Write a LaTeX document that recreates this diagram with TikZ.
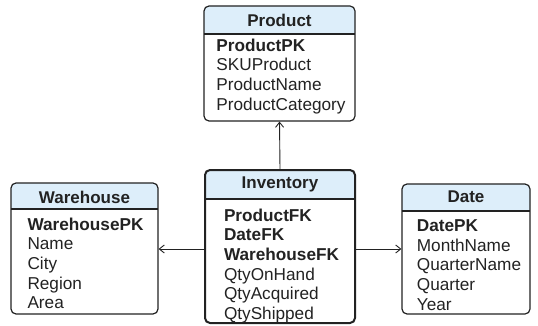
\documentclass[tikz,border=0pt]{standalone}
\usepackage{fontspec}
\setmainfont{Liberation Sans}
\usetikzlibrary{arrows.meta}
\definecolor{hdrblue}{RGB}{221,238,250}
\definecolor{ink}{RGB}{34,34,34}
\tikzset{
  tablebox/.style={draw=ink, line width=1.2pt, rounded corners=5pt, inner sep=0pt},
  facttable/.style={tablebox, line width=2pt},
  hdrfill/.style={fill=hdrblue},
  titletext/.style={font=\fontsize{17}{19}\selectfont\bfseries, text=ink, inner sep=0pt},
  bodytext/.style={font=\fontsize{17.2}{19.7}\selectfont, text=ink, align=left, inner sep=0pt, anchor=north},
  link/.style={draw=ink, line width=0.9pt, -{Straight Barb[length=5pt,width=8pt]}}
}
% one table: #1 name, #2 left, #3 top, #4 right, #5 header bottom, #6 bottom, #7 style
\newcommand{\tablecard}[7]{%
  \fill[hdrfill, rounded corners=5pt] (#2,#3) rectangle (#4,#5);
  \fill[hdrfill] (#2,#5-6) rectangle (#4,#5);
  \draw[draw=ink, line width=1.1pt] (#2,#5) -- (#4,#5);
  \node[#7, minimum width=#4-#2, minimum height=#6-#3] (#1) at ({(#2+#4)/2},{(#3+#6)/2}) {};
}
\begin{document}
\begin{tikzpicture}[x=1pt, y=-1pt]
  \useasboundingbox (0,0) rectangle (538,326);

  % Product dimension
  \tablecard{prod}{204}{6}{355}{34}{121}{tablebox}
  \node[titletext] (prodtitle) at (279.5,20) {Product};
  \node[bodytext] (prodbody) at (281,38.5) {\textbf{ProductPK}\\SKUProduct\\ProductName\\ProductCategory};

  % Warehouse dimension
  \tablecard{wh}{11}{183}{158}{209}{314}{tablebox}
  \node[titletext] (whtitle) at (84.5,197) {Warehouse};
  \node[bodytext] (whbody) at (85.5,217.5) {\textbf{WarehousePK}\\Name\\City\\Region\\Area};

  % Inventory fact table
  \tablecard{inv}{205}{170}{355}{199}{323}{facttable}
  \node[titletext] (invtitle) at (280,184) {Inventory};
  \node[bodytext] (invbody) at (281.5,208.5) {\textbf{ProductFK}\\\textbf{DateFK}\\\textbf{WarehouseFK}\\QtyOnHand\\QtyAcquired\\QtyShipped};

  % Date dimension
  \tablecard{date}{402}{184}{530}{211}{314}{tablebox}
  \node[titletext] (datetitle) at (466,197) {Date};
  \node[bodytext] (datebody) at (469,219.5) {\textbf{DatePK}\\MonthName\\QuarterName\\Quarter\\Year};

  % foreign key links
  \coordinate (invleft) at (205,249);
  \coordinate (invright) at (355,249);
  \draw[link] (inv.north) -- (prod.south);
  \draw[link] (invleft) -- (invleft -| wh.east);
  \draw[link] (invright) -- (invright -| date.west);
\end{tikzpicture}
\end{document}
